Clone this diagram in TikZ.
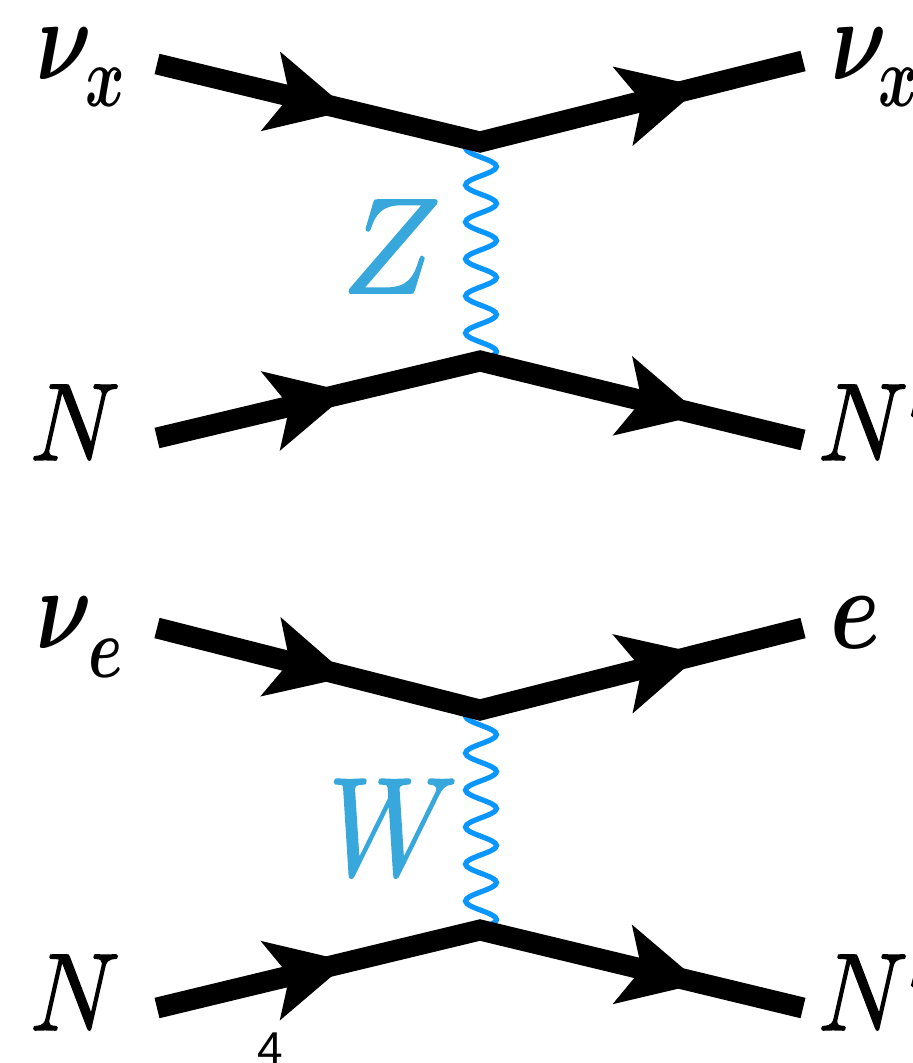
\documentclass[tikz,border=0pt]{standalone}
\usepackage{fontspec}
\newfontfamily\labelsans{Liberation Sans}
\usetikzlibrary{arrows.meta,decorations.markings,decorations.pathmorphing}
\definecolor{wavecol}{HTML}{0A96FF}
\definecolor{labcol}{HTML}{38A8DC}
\newcommand{\glyph}[3]{\scalebox{#1}[#2]{\boldmath$#3$}}
\newcommand{\capglyph}[3]{\scalebox{#1}[#2]{\special{pdf:literal 2 Tr 0.14 w}$#3$\special{pdf:literal 0 Tr}}}
\tikzset{
  x=0.5pt,y=-0.5pt,
  fermion/.style={line width=10.5pt,line join=miter,miter limit=10,draw=black,postaction={decorate},
    decoration={markings,
      mark=at position 0.297 with {\arrow{Stealth[length=40.5pt,width=41pt,inset=10pt,fill=black,line width=0pt]}},
      mark=at position 0.842 with {\arrow{Stealth[length=40.5pt,width=41pt,inset=10pt,fill=black,line width=0pt]}}}},
  boson/.style={line width=2.6pt,draw=wavecol,decorate,
    decoration={snake,segment length=18.5pt,amplitude=7.75pt,mirror,pre length=0pt,post length=0pt}},
  lab/.style={anchor=base west,inner sep=0pt,outer sep=0pt,black},
  gauge/.style={lab,text=labcol},
  pagenum/.style={anchor=base,inner sep=0pt,font=\labelsans\fontsize{23}{25}\selectfont},
}
\begin{document}
\begin{tikzpicture}
\useasboundingbox (0,0) rectangle (912,1063);
% top diagram
\coordinate (a1) at (157,64);
\coordinate (v1) at (480,142);
\coordinate (b1) at (803,61);
\coordinate (c1) at (157,438);
\coordinate (v2) at (480,361);
\coordinate (d1) at (803,440);
\coordinate (w1s) at (481,136.5);
\coordinate (w1e) at (481,365);
% bottom diagram
\coordinate (a2) at (157,628);
\coordinate (v3) at (480,710);
\coordinate (b2) at (803,628);
\coordinate (c2) at (157,1008);
\coordinate (v4) at (480,930);
\coordinate (d2) at (803,1008);
\coordinate (w2s) at (481,704.5);
\coordinate (w2e) at (481,933);

\draw[boson] (w1s) -- (w1e);
\draw[boson] (w2s) -- (w2e);
\draw[fermion] (a1) -- (v1) -- (b1);
\draw[fermion] (c1) -- (v2) -- (d1);
\draw[fermion] (a2) -- (v3) -- (b2);
\draw[fermion] (c2) -- (v4) -- (d2);

\node[lab] (nux) at (36,80) {\glyph{4.3}{5.8}{\nu}};
\node[lab] (xa) at (85,107) {\glyph{3.0}{4.3}{x}};
\node[lab] (nuxp) at (831,80) {\glyph{4.3}{5.8}{\nu}};
\node[lab] (xb) at (878,107) {\glyph{3.0}{4.3}{x}};
\node[lab] (n1) at (30,460) {\capglyph{4.95}{5.5}{N}};
\node[lab] (n1p) at (818,460) {\capglyph{4.95}{5.5}{N'}};
\node[lab] (nue) at (36,648) {\glyph{4.3}{5.8}{\nu}};
\node[lab] (es) at (88,677) {\glyph{3.1}{4.3}{e}};
\node[lab] (e) at (830,648) {\glyph{4.5}{5.8}{e}};
\node[lab] (n2) at (30,1030) {\capglyph{4.95}{5.5}{N}};
\node[lab] (n2p) at (818,1030) {\capglyph{4.95}{5.5}{N'}};
\node[gauge] (z) at (342,293) {\capglyph{6.55}{6.8}{Z}};
\node[gauge] (w) at (328,875) {\capglyph{6.0}{7.0}{W}};
\node[pagenum] (pg) at (270,1064) {4};
\end{tikzpicture}
\end{document}
